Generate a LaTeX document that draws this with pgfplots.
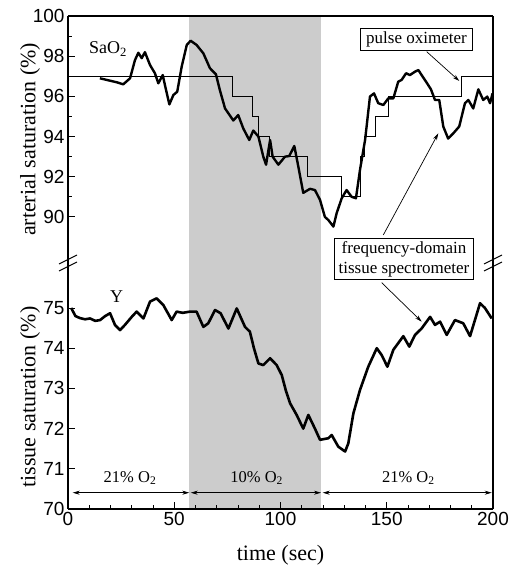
\documentclass[border=0pt]{standalone}
\usepackage{fontspec}
\setmainfont{Liberation Serif}
\setsansfont{Liberation Sans}
\usepackage{pgfplots}
\pgfplotsset{compat=1.18}
\usetikzlibrary{arrows.meta}

\pgfplotsset{
  panel/.style={
    scale only axis, width=425pt,
    xmin=0, xmax=200,
    axis y line*=left,
    tick align=inside,
    axis line style={line width=1.2pt},
    every tick/.style={black, line width=1pt},
    major tick length=7pt, minor tick length=4pt,
    tick label style={font=\sffamily\fontsize{19}{21}\selectfont},
    /pgf/number format/assume math mode=true,
    axis on top,
    every axis y label/.style={rotate=90, anchor=center, font=\fontsize{22}{26}\selectfont},
    every axis x label/.style={anchor=center, font=\fontsize{22}{26}\selectfont},
  },
  shade/.style={draw=none, fill=black!20, forget plot},
}

\begin{document}
\begin{tikzpicture}
% upper panel: arterial saturation
\begin{axis}[panel, at={(68pt,309pt)}, anchor=south west, height=247pt,
  ymin=87.71, ymax=100,
  ytick={90,92,...,100}, minor y tick num=1,
  axis x line*=top, xtick=\empty,
  ylabel={arterial saturation (\%)},
  ylabel style={at={(axis description cs:-0.0894,0.5)}},
]
\addplot[shade] coordinates {(57,80) (57,105) (119,105) (119,80)} -- cycle;
% pulse oximeter
\addplot[const plot, black, line width=0.9pt] coordinates {
(0,97) (77.6,96) (86.6,95) (89.4,94) (95,93) (112.5,92) (128.5,91)
(137.5,93) (139.5,94) (144.5,95) (151,96) (185,97) (200,97)};
% frequency-domain spectrometer
\addplot[black, line width=2.4pt, line join=round] coordinates {
(15,96.9) (19.8,96.78) (23,96.7) (26,96.6) (29.2,96.9) (31.5,97.8) (33.1,98.17)
(34.7,97.9) (36.2,98.2) (38.6,97.56) (40.9,97.15) (42.5,96.65) (44.6,97.06)
(45.6,96.57) (47.7,95.6) (49.6,96.07) (51.4,96.23) (53.5,97.48) (55.9,98.56)
(57.7,98.77) (60.5,98.56) (63.7,98.14) (66.8,97.4) (69.6,97.1) (71.5,96.3)
(73.9,95.4) (77.8,94.8) (80.1,95.07) (82.5,94.4) (85.3,93.83) (87.2,94.3)
(89.6,94.0) (91.9,93.0) (93.2,92.6) (95.1,93.83) (96.3,93.0) (99,92.6)
(102.1,93.0) (104.1,93.03) (106.5,93.53) (108.4,92.5) (110.7,91.2) (113.9,91.4)
(116.2,91.34) (118.6,90.85) (120.9,90.0) (122.5,89.85) (124.9,89.52)
(126.4,90.18) (128.8,90.93) (131.1,91.34) (133.5,91.0) (135.5,90.93)
(137.4,92.34) (139.8,93.83) (142.1,95.99) (144,96.15) (146,95.66) (148.4,95.57)
(150.7,95.9) (153.1,95.9) (155.4,96.73) (157,96.82) (159.1,97.15) (160.9,97.06)
(163.3,97.23) (164.9,97.31) (166.4,97.06) (168.5,96.73) (170.8,96.35)
(172.7,95.82) (174.7,95.82) (176.6,94.5) (178.9,93.9) (181.3,94.16)
(184.1,94.5) (186.8,95.66) (188.4,95.82) (190.7,95.4) (193.1,96.35)
(195.4,95.82) (197.3,95.99) (198.6,95.66) (199.8,96.15)};
\end{axis}

% lower panel: tissue saturation
\begin{axis}[panel, at={(68pt,63pt)}, anchor=south west, height=246pt,
  ymin=70, ymax=76.12,
  ytick={70,71,...,75},
  axis x line*=bottom,
  xtick={0,50,...,200}, minor x tick num=4,
  xlabel={time (sec)},
  xlabel style={at={(axis description cs:0.5,-0.187)}},
  ylabel={tissue saturation (\%)},
  ylabel style={at={(axis description cs:-0.0894,0.455)}},
]
\addplot[shade] coordinates {(57,60) (57,80) (119,80) (119,60)} -- cycle;
\addplot[black, line width=2.6pt, line join=round] coordinates {
(1.5,75.0) (3.5,74.8) (5.6,74.75) (8,74.72) (10.4,74.74) (12.8,74.68)
(15.1,74.7) (17.5,74.8) (19.8,74.87) (22.1,74.58) (24.5,74.45) (26.8,74.58)
(30,74.78) (32.3,74.91) (35.5,74.74) (38.6,75.16) (41.7,75.24) (44.9,75.07)
(48.8,74.7) (51.1,74.91) (54,74.88) (57.4,74.91) (60.5,74.91) (63.7,74.53)
(66,74.62) (69.2,74.95) (71.8,74.87) (75.5,74.49) (79.4,74.99) (83.3,74.53)
(85.6,74.41) (87.5,74.0) (89.6,73.62) (91.9,73.58) (95.1,73.75) (98.2,73.58)
(100.6,73.33) (102.5,72.95) (104.5,72.63) (107.6,72.34) (110.7,72.0)
(113.1,72.34) (116.2,72.0) (118.6,71.72) (120.5,71.74) (122.5,71.76)
(124.1,71.84) (127.2,71.55) (130.4,71.43) (131.9,71.63) (134.3,72.38)
(137.4,72.96) (141.3,73.54) (145.3,74.0) (147.6,73.83) (150.3,73.54)
(153.1,73.96) (157.8,74.3) (160.6,74.04) (163.3,74.33) (166.4,74.49)
(170.4,74.78) (172.7,74.58) (175.1,74.66) (178.2,74.33) (182.1,74.7)
(186,74.62) (189.2,74.3) (193.9,75.12) (196.2,75.0) (199.4,74.74)};
\end{axis}

% right frame line and axis breaks
\draw[line width=1.2pt] (493pt,63pt) -- (493pt,556pt);
\foreach \x in {68,493} {
  \draw[line width=1pt] (\x pt-9pt,301pt) -- (\x pt+9pt,310pt);
  \draw[line width=1pt] (\x pt-9pt,308pt) -- (\x pt+9pt,317pt);
}

% annotations
\node[font=\fontsize{18}{20}\selectfont] at (108pt,523pt) {SaO\textsubscript{2}};
\node[font=\fontsize{18}{20}\selectfont] at (116.7pt,275.3pt) {Y};
\node[draw, fill=white, line width=0.8pt, inner xsep=6pt, inner ysep=3pt,
  font=\fontsize{17}{19}\selectfont] at (416.5pt,532.5pt) {pulse oximeter};
\draw[line width=0.7pt, -{Stealth[length=7pt,width=4pt]}] (426.7pt,520.3pt) -- (459.3pt,491pt);
\node[draw, fill=white, line width=0.8pt, inner xsep=4pt, inner ysep=3pt, align=center,
  font=\fontsize{17}{20}\selectfont] at (404pt,313pt) {frequency-domain\\tissue spectrometer};
\draw[line width=0.7pt, -{Stealth[length=7pt,width=4pt]}] (383.3pt,337pt) -- (438.3pt,438.7pt);
\draw[line width=0.7pt, -{Stealth[length=7pt,width=4pt]}] (381.7pt,289.3pt) -- (421.7pt,250.3pt);

% oxygen phases
\begin{scope}[line width=0.7pt, {Stealth[length=7pt,width=4pt]}-{Stealth[length=7pt,width=4pt]}]
\draw (72.7pt,79.3pt) -- (189.3pt,79.3pt);
\draw (190.7pt,79.3pt) -- (321pt,79.3pt);
\draw (322.7pt,79.3pt) -- (491.7pt,79.3pt);
\end{scope}
\begin{scope}[font=\fontsize{16.5}{18}\selectfont]
\node at (130pt,94pt) {21\% O\textsubscript{2}};
\node at (256.7pt,94pt) {10\% O\textsubscript{2}};
\node at (408.3pt,94pt) {21\% O\textsubscript{2}};
\end{scope}

\pgfresetboundingbox
\useasboundingbox (0,0) rectangle (509pt,572pt);
\end{tikzpicture}
\end{document}
